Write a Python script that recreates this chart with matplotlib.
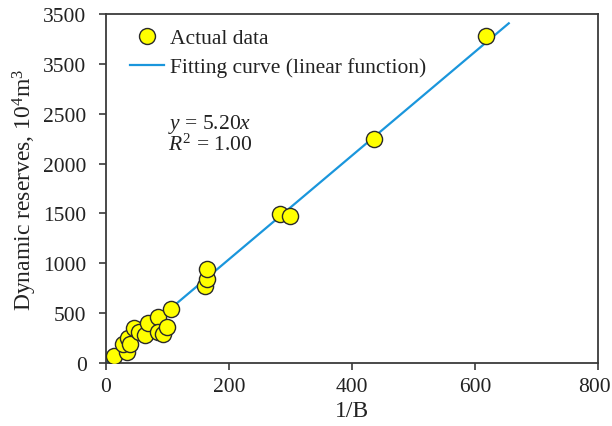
import matplotlib
matplotlib.use("Agg")
import matplotlib.pyplot as plt
import matplotlib.transforms as mtransforms
from matplotlib.lines import Line2D
import numpy as np

# valores
inv_b = [13, 34, 27, 35, 39, 46, 54, 64, 69, 84, 85, 93, 100, 106,
         161, 165, 165, 283, 299, 436, 618]
reservas = [75, 110, 190, 248, 190, 348, 314, 284, 398, 458, 314, 290, 364, 541,
            769, 842, 943, 1494, 1472, 2250, 3277]
pendiente = 5.20
x_ajuste = [0, 655]
yticks = [0, 500, 1000, 1500, 2000, 2500, 3000, 3500]
ytick_labels = ["0", "500", "1000", "1500", "2000", "2500", "3500", "3500"]
xticks = [0, 200, 400, 600, 800]

plt.rcParams["font.family"] = ["Liberation Serif", "DejaVu Serif"]
plt.rcParams["mathtext.fontset"] = "custom"
plt.rcParams["mathtext.rm"] = "Liberation Serif"
plt.rcParams["mathtext.it"] = "Liberation Serif:italic"

fig = plt.figure(figsize=(6.12, 4.27), dpi=100)
ax = fig.add_axes([0.1732, 0.1475, 0.8038, 0.8175])

color_eje = "#3a3a3a"
color_linea = "#1a96dc"
color_texto = "#222222"

xs = np.array(x_ajuste)
ax.plot(xs, pendiente * xs, color=color_linea, lw=1.6, zorder=2)
ax.scatter(inv_b, reservas, s=135, facecolor="#ffff00", edgecolor="#2a2a2a",
           linewidth=1.0, zorder=3)

ax.set_xlim(0, 800)
ax.set_ylim(0, 3500)
ax.set_xticks(xticks)
ax.set_yticks(yticks)
ax.set_yticklabels(ytick_labels)
ax.tick_params(direction="out", length=5, width=1.2, color=color_eje,
               labelsize=15.5, labelcolor=color_texto, top=False, right=False)
ax.tick_params(axis="y", pad=9)
ax.tick_params(axis="x", pad=5)
for lado in ax.spines.values():
    lado.set_color(color_eje)
    lado.set_linewidth(1.3)

# el 800 queda pegado al borde, se corre un poco a la izquierda
fig.canvas.draw()
ultima = ax.get_xticklabels()[-1]
ultima.set_transform(ultima.get_transform() +
                     mtransforms.ScaledTranslation(-3 / 100, 0, fig.dpi_scale_trans))

ax.set_xlabel("1/B", fontsize=17, color=color_texto, labelpad=3)
ax.set_ylabel("Dynamic reserves, 10$^4$m$^3$", fontsize=17, color=color_texto,
              labelpad=3)

handles = [
    Line2D([], [], marker="o", ls="none", markersize=11.5,
           markerfacecolor="#ffff00", markeredgecolor="#2a2a2a"),
    Line2D([], [], color=color_linea, lw=1.6),
]
ax.legend(handles, ["Actual data", "Fitting curve (linear function)"],
          loc="upper left", bbox_to_anchor=(0.01, 1.015), frameon=False,
          fontsize=15.5, handlelength=1.55, handletextpad=0.28, labelspacing=0.42,
          labelcolor=color_texto)

ax.text(0.127, 0.718, "$y$ = 5.20$x$\n$R^2$ = 1.00", transform=ax.transAxes,
        fontsize=15.5, color=color_texto, va="top", linespacing=0.87)

fig.savefig("out.png", dpi=100)
